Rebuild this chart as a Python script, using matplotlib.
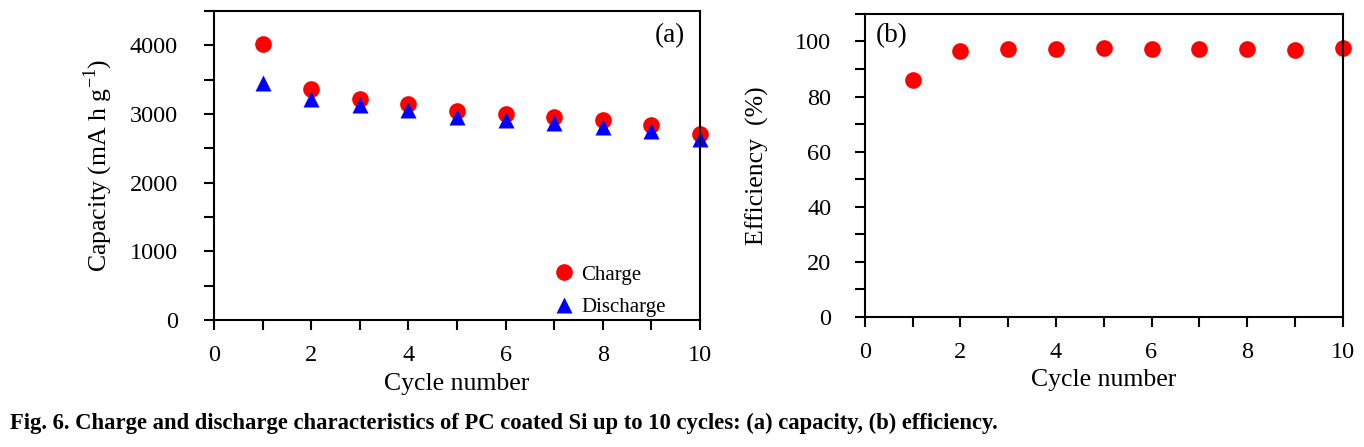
import numpy as np
import matplotlib.pyplot as plt
from matplotlib.ticker import MultipleLocator

plt.rcParams['font.family'] = ['Liberation Serif', 'DejaVu Serif']
plt.rcParams['mathtext.fontset'] = 'custom'
plt.rcParams['mathtext.rm'] = 'Liberation Serif'

cycles = np.arange(1, 11)
charge = [4025, 3360, 3215, 3142, 3045, 3006, 2957, 2909, 2846, 2715]
discharge = [3452, 3224, 3127, 3055, 2957, 2918, 2869, 2811, 2749, 2642]
efficiency = [86.1, 96.4, 97.3, 97.2, 97.6, 97.2, 97.2, 97.1, 97.0, 97.7]

fig = plt.figure(figsize=(13.64, 4.47), dpi=100)
ax1 = fig.add_axes([0.1569, 0.284, 0.3563, 0.691])
ax2 = fig.add_axes([0.634, 0.291, 0.3504, 0.678])

ax1.plot(cycles, charge, 'o', color='#ff0000', ms=12, mec='none', label='Charge', clip_on=False)
ax1.plot(cycles, discharge, '^', color='#0000ff', ms=12, mec='none', label='Discharge', clip_on=False)
ax2.plot(cycles, efficiency, 'o', color='#ff0000', ms=12, mec='none', clip_on=False)

for ax in (ax1, ax2):
    ax.set_xlim(0, 10)
    ax.xaxis.set_major_locator(MultipleLocator(2))
    ax.xaxis.set_minor_locator(MultipleLocator(1))
    ax.tick_params(which='both', direction='out', length=7, width=1.5, labelsize=17.5)
    ax.tick_params(axis='x', pad=11)
    for s in ax.spines.values():
        s.set_linewidth(1.5)
    ax.set_xlabel('Cycle number', fontsize=18.5)
    ax.xaxis.set_label_coords(0.5, -0.172)

ax1.set_ylim(0, 4500)
ax1.yaxis.set_major_locator(MultipleLocator(1000))
ax1.yaxis.set_minor_locator(MultipleLocator(500))
ax1.tick_params(axis='y', pad=19)
ax1.set_ylabel('Capacity (mA h g$^{\\mathregular{-1}}$)', fontsize=18.5)
ax1.yaxis.set_label_coords(-0.203, 0.5)
ax1.text(0.938, 0.922, '(a)', transform=ax1.transAxes, fontsize=19.5, ha='center', va='center')
ax1.legend(loc='lower right', bbox_to_anchor=(0.955, -0.03), frameon=False, fontsize=15,
           handlelength=1.0, handletextpad=0.3, labelspacing=0.6, borderaxespad=0.2)

ax2.set_ylim(0, 110)
ax2.yaxis.set_major_locator(MultipleLocator(20))
ax2.yaxis.set_minor_locator(MultipleLocator(10))
ax2.tick_params(axis='y', pad=17)
ax2.set_ylabel('Efficiency  (%)', fontsize=18.5)
ax2.yaxis.set_label_coords(-0.2, 0.5)
ax2.text(0.056, 0.927, '(b)', transform=ax2.transAxes, fontsize=19.5, ha='center', va='center')

fig.text(0.007, 0.053, 'Fig. 6. Charge and discharge characteristics of PC coated Si up to 10 cycles: (a) capacity, (b) efficiency.',
         fontsize=16.3, fontweight='bold', ha='left', va='center')

fig.savefig('out.png', dpi=100)
